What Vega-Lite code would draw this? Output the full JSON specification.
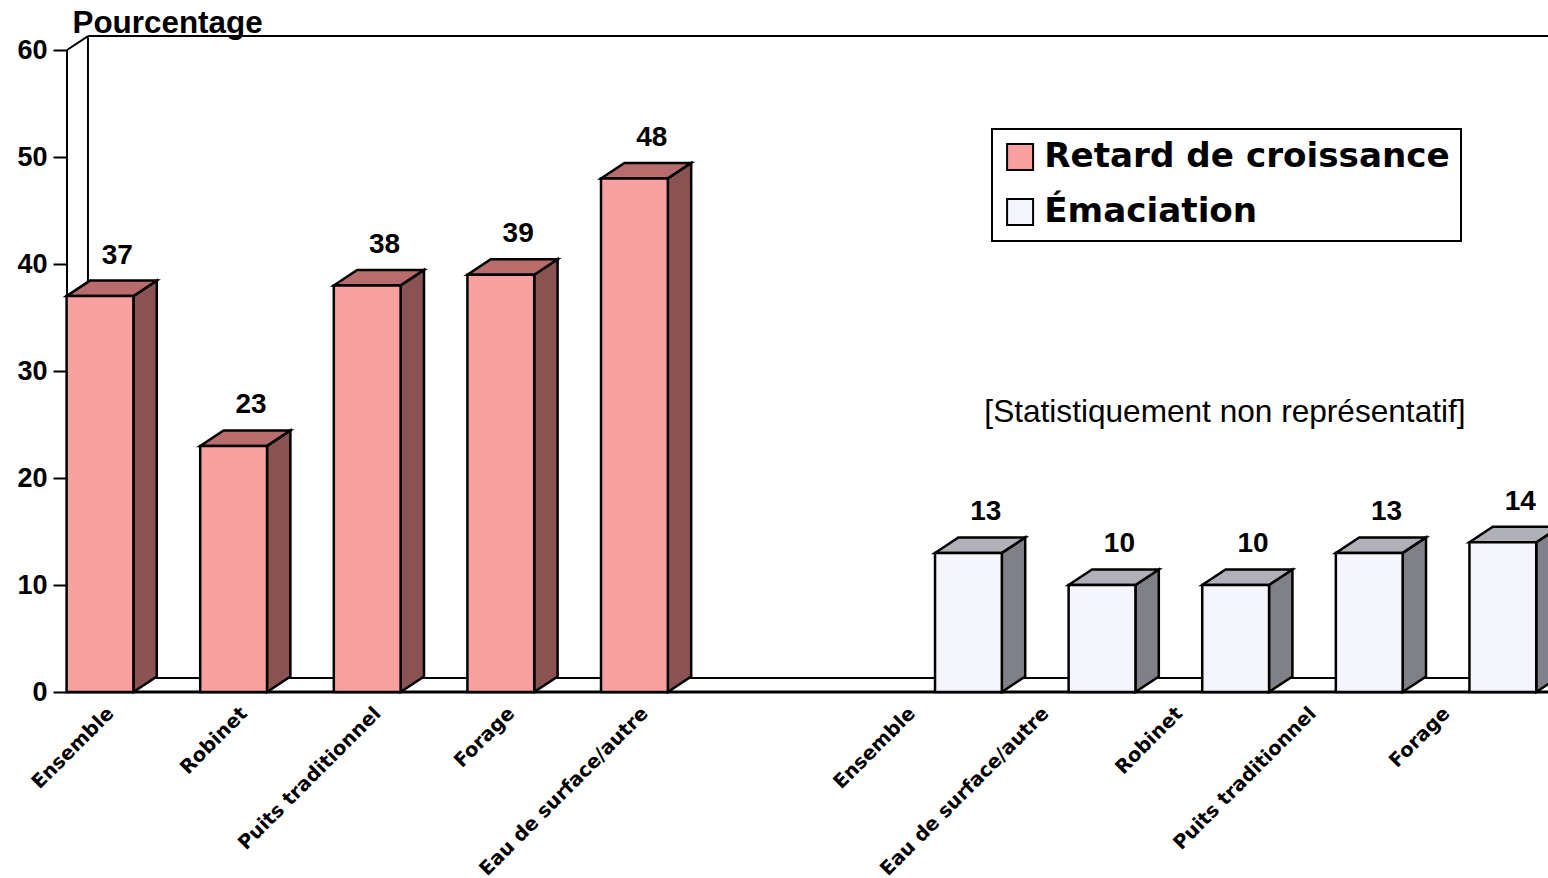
{
"$schema":"https://vega.github.io/schema/vega-lite/v6.json",
"width":1481,"height":642,
"padding":{"left":67,"top":50,"right":0,"bottom":186},
"autosize":{"type":"none"},
"background":"white",
"config":{"view":{"stroke":null},"font":"Liberation Sans","legend":{"strokeWidth":2}},
"datasets":{
"bars":[
{"series":"Retard de croissance","category":"Ensemble","pos":0,"value":37},
{"series":"Retard de croissance","category":"Robinet","pos":1,"value":23},
{"series":"Retard de croissance","category":"Puits traditionnel","pos":2,"value":38},
{"series":"Retard de croissance","category":"Forage","pos":3,"value":39},
{"series":"Retard de croissance","category":"Eau de surface/autre","pos":4,"value":48},
{"series":"Émaciation","category":"Ensemble","pos":6.5,"value":13},
{"series":"Émaciation","category":"Eau de surface/autre","pos":7.5,"value":10},
{"series":"Émaciation","category":"Robinet","pos":8.5,"value":10},
{"series":"Émaciation","category":"Puits traditionnel","pos":9.5,"value":13},
{"series":"Émaciation","category":"Forage","pos":10.5,"value":14}
],
"frame":[
{"xa":-0.09,"ya":61.3,"xb":-0.09,"yb":1.3},
{"xa":-0.09,"ya":61.3,"xb":11,"yb":61.3},
{"xa":-0.09,"ya":1.3,"xb":11,"yb":1.3},
{"xa":-0.247,"ya":60,"xb":-0.09,"yb":61.3},
{"xa":-0.247,"ya":0,"xb":-0.09,"yb":1.3},
{"xa":-0.247,"ya":60,"xb":-0.247,"yb":0},
{"xa":-0.247,"ya":0,"xb":11,"yb":0}
]
},
"layer":[
{"data":{"name":"frame"},
 "mark":{"type":"rule","color":"black"},
 "encoding":{
  "strokeWidth":{"condition":{"test":"datum.ya===0&&datum.yb===0","value":3},"value":2},
  "x":{"field":"xa","type":"quantitative","scale":{"domain":[-0.247,10.838],"nice":false,"zero":false},
   "axis":{"values":[0,1,2,3,4,6,7,8,9,10],"title":null,"grid":false,"domain":false,"ticks":false,"labelAngle":-45,"labelAlign":"right","labelBaseline":"middle","labelPadding":18,"labelOffset":10,"labelFont":"DejaVu Sans","labelFontSize":19.5,"labelFontWeight":"bold","labelColor":"black","labelFlush":false,"labelOverlap":false,"labelBound":false,"labelLimit":400,
   "labelExpr":"['Ensemble','Robinet','Puits traditionnel','Forage','Eau de surface/autre','','Ensemble','Eau de surface/autre','Robinet','Puits traditionnel','Forage'][datum.value]"}},
  "x2":{"field":"xb"},
  "y":{"field":"ya","type":"quantitative","scale":{"domain":[0,60],"nice":false,"zero":true},
   "axis":{"values":[0,10,20,30,40,50,60],"title":"Pourcentage","titleAngle":0,"titleAlign":"left","titleBaseline":"alphabetic","titleX":5,"titleY":-18,"titleFontSize":31.4,"titleFontWeight":"bold","titleColor":"black","grid":false,"domain":false,"tickSize":14,"tickWidth":2,"tickColor":"black","labelFontSize":27,"labelFontWeight":"bold","labelColor":"black","labelPadding":6,"labelFlush":false}},
  "y2":{"field":"yb"}
 }},
{"data":{"name":"bars"},
 "transform":[
  {"calculate":"[0,1]","as":"k"},{"flatten":["k"]},
  {"calculate":"datum.pos+0.25+datum.k*0.175","as":"sx"},
  {"calculate":"datum.k*1.45","as":"sy"},
  {"calculate":"datum.value+datum.k*1.45","as":"sy2"}
 ],
 "mark":{"type":"area","stroke":"black","strokeWidth":2.5,"clip":false},
 "encoding":{
  "x":{"field":"sx","type":"quantitative"},
  "y":{"field":"sy","type":"quantitative"},
  "y2":{"field":"sy2"},
  "detail":{"field":"pos"},
  "fill":{"condition":{"test":"datum.series==='Retard de croissance'","value":"#8a5252"},"value":"#808088"}
 }},
{"data":{"name":"bars"},
 "transform":[
  {"calculate":"[0,1,2,3]","as":"k"},{"flatten":["k"]},
  {"calculate":"datum.pos-0.25+[0,0.175,0.5,0.675][datum.k]","as":"tx"},
  {"calculate":"datum.value+[0,0,0,1.45][datum.k]","as":"ty"},
  {"calculate":"datum.value+[0,1.45,1.45,1.45][datum.k]","as":"ty2"}
 ],
 "mark":{"type":"area","stroke":"black","strokeWidth":2.5,"clip":false},
 "encoding":{
  "x":{"field":"tx","type":"quantitative"},
  "y":{"field":"ty","type":"quantitative"},
  "y2":{"field":"ty2"},
  "detail":{"field":"pos"},
  "fill":{"condition":{"test":"datum.series==='Retard de croissance'","value":"#b96c6c"},"value":"#b0b0b8"}
 }},
{"data":{"name":"bars"},
 "transform":[
  {"calculate":"datum.pos-0.25","as":"x0"},
  {"calculate":"datum.pos+0.25","as":"x1"}
 ],
 "mark":{"type":"rect","stroke":"black","strokeWidth":2.5},
 "encoding":{
  "x":{"field":"x0","type":"quantitative"},
  "x2":{"field":"x1"},
  "y":{"field":"value","type":"quantitative"},
  "y2":{"datum":0},
  "color":{"field":"series","type":"nominal",
   "scale":{"domain":["Retard de croissance","Émaciation"],"range":["#f9a0a0","#f5f5fd"]},
   "legend":{"title":null,"orient":"none","legendX":925,"legendY":79,"fillColor":"white","strokeColor":"black","padding":11,"symbolType":"square","symbolSize":676,"symbolStrokeColor":"black","symbolStrokeWidth":2,"labelFont":"DejaVu Sans","labelFontSize":34.2,"labelFontWeight":"bold","labelColor":"black","labelOffset":7,"rowPadding":20,"labelLimit":600}}
 }},
{"data":{"name":"bars"},
 "transform":[
  {"calculate":"datum.pos+0.13","as":"lx"},
  {"calculate":"datum.value+1.45","as":"ly"}
 ],
 "mark":{"type":"text","fontSize":28,"fontWeight":"bold","color":"black","dy":-25,"baseline":"middle"},
 "encoding":{
  "x":{"field":"lx","type":"quantitative"},
  "y":{"field":"ly","type":"quantitative"},
  "text":{"field":"value","type":"quantitative"}
 }},
{"data":{"values":[{"note":"[Statistiquement non représentatif]","nx":8.42,"ny":26.07}]},
 "mark":{"type":"text","fontSize":31.6,"color":"black","baseline":"middle"},
 "encoding":{
  "x":{"field":"nx","type":"quantitative"},
  "y":{"field":"ny","type":"quantitative"},
  "text":{"field":"note","type":"nominal"}
 }}
]
}
